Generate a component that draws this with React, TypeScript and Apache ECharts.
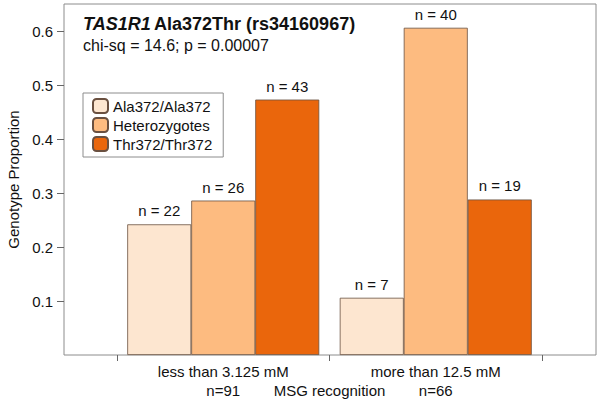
import React, { useEffect, useRef } from "react";
import * as echarts from "echarts";

const categories = ["less than 3.125 mM", "more than 12.5 mM"];
const groupTotals = [91, 66];
const genotypes = ["Ala372/Ala372", "Heterozygotes", "Thr372/Thr372"];
const counts = [
  [22, 7],
  [26, 40],
  [43, 19],
];
const proportions = [
  [0.242, 0.106],
  [0.286, 0.606],
  [0.473, 0.288],
];
const yTicks = [0.1, 0.2, 0.3, 0.4, 0.5, 0.6];
const colors = ["#FDE6D0", "#FDBB80", "#EA660C"];

const FONT = "'Liberation Sans', Arial, Helvetica, sans-serif";

export default function App() {
  const ref = useRef<HTMLDivElement>(null);
  useEffect(() => {
    if (!ref.current) return;
    const chart = echarts.init(ref.current, undefined, { renderer: "svg" });
    const option: any = {
      animation: false,
      textStyle: { fontFamily: FONT },
      grid: [
        {
          left: 64, top: 4, width: 532, height: 351, show: true,
          borderColor: "#8c8c8c", borderWidth: 1, outerBoundsMode: "none", containLabel: false,
        },
        { left: 117, right: 58, top: 4, height: 351, outerBoundsMode: "none", containLabel: false },
      ],
      legend: {
        orient: "vertical",
        left: 83,
        top: 93,
        padding: [5, 11, 5, 9],
        itemWidth: 15,
        itemHeight: 14,
        itemGap: 3,
        borderColor: "#8c8c8c",
        borderWidth: 1,
        icon: "roundRect",
        textStyle: { fontSize: 15, color: "#111", fontFamily: FONT },
        data: genotypes,
      },
      xAxis: [
        { type: "value", gridIndex: 0, min: 0, max: 1, show: false },
        {
          type: "category",
          gridIndex: 1,
          data: categories.map((c, i) => `${c}\nn=${groupTotals[i]}`),
          boundaryGap: true,
          axisLine: { show: false },
          axisTick: { show: true, length: 6, lineStyle: { color: "#666" } },
          axisLabel: { fontSize: 15, color: "#111", lineHeight: 19, margin: 7, fontFamily: FONT },
          name: "MSG recognition",
          nameLocation: "middle",
          nameGap: 28,
          nameMoveOverlap: false,
          nameTextStyle: { fontSize: 15, color: "#111", fontFamily: FONT },
        },
      ],
      yAxis: [
        {
          type: "value",
          gridIndex: 0,
          min: 0,
          max: 0.65,
          interval: 0.1,
          axisLine: { show: false },
          splitLine: { show: false },
          axisTick: { show: true, length: 7, lineStyle: { color: "#666" }, customValues: yTicks },
          axisLabel: {
            fontSize: 15,
            color: "#111",
            margin: 11,
            fontFamily: FONT,
            customValues: yTicks,
            formatter: (v: number) => v.toFixed(1),
          },
          name: "Genotype Proportion",
          nameLocation: "middle",
          nameGap: 43,
          nameMoveOverlap: false,
          nameTextStyle: { fontSize: 15, color: "#111", fontFamily: FONT },
        },
        { type: "value", gridIndex: 1, min: 0, max: 0.65, show: false },
      ],
      series: genotypes.map((g, si) => ({
        name: g,
        type: "bar",
        xAxisIndex: 1,
        yAxisIndex: 1,
        barWidth: 64,
        barGap: "0%",
        data: proportions[si],
        itemStyle: { color: colors[si], borderColor: "#6a5040", borderWidth: 0.8 },
        label: {
          show: true,
          position: "top",
          distance: 6,
          fontSize: 15,
          color: "#111",
          fontFamily: FONT,
          formatter: (p: any) => `n = ${counts[si][p.dataIndex]}`,
        },
      })),
      graphic: [
        {
          type: "text",
          left: 83,
          top: 15,
          style: {
            text: "{i|TAS1R1} {b|Ala372Thr (rs34160967)}",
            rich: {
              i: { fontStyle: "italic", fontWeight: "bold", fontSize: 18, fill: "#111", fontFamily: FONT },
              b: { fontWeight: "bold", fontSize: 18, fill: "#111", fontFamily: FONT },
            },
          },
        },
        {
          type: "text",
          left: 83,
          top: 37,
          style: { text: "chi-sq = 14.6; p = 0.00007", fontSize: 16, fill: "#111", fontFamily: FONT },
        },
      ],
    };
    chart.setOption(option);
    return () => chart.dispose();
  }, []);
  return <div ref={ref} style={{ width: 600, height: 403, position: "absolute", left: 0, top: 0 }} />;
}
